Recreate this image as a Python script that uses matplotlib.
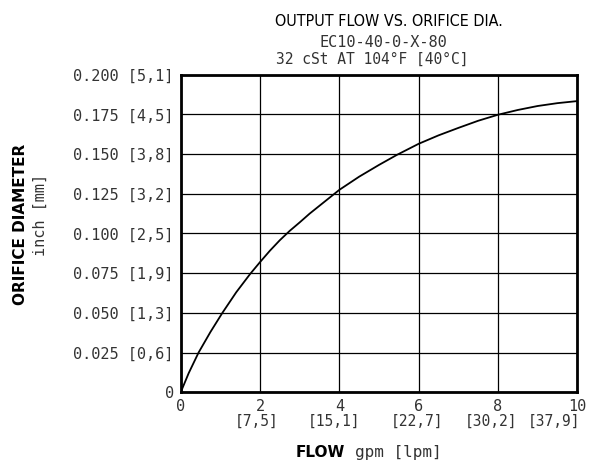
import matplotlib
matplotlib.use("Agg")
import matplotlib.pyplot as plt

# flow (gpm) vs orifice diameter (inch)
flow = [0, 0.2, 0.45, 0.75, 1.05, 1.4, 1.75, 2, 2.25, 2.5, 2.75, 3, 3.25,
        3.5, 3.85, 4, 4.5, 5, 5.45, 6, 6.5, 7, 7.5, 8, 8.5, 9, 9.5, 10]
dia = [0, 0.012, 0.025, 0.038, 0.050, 0.063, 0.0745, 0.082, 0.0892, 0.0958,
       0.1017, 0.107, 0.1125, 0.1175, 0.1245, 0.1275, 0.1358, 0.1432, 0.1495,
       0.1565, 0.1618, 0.1665, 0.1710, 0.1748, 0.1778, 0.1803, 0.1821, 0.1834]

x_ticks = [0, 2, 4, 6, 8, 10]
x_lpm = ["", "[7,5]", "[15,1]", "[22,7]", "[30,2]", "[37,9]"]
y_ticks = [0, 0.025, 0.050, 0.075, 0.100, 0.125, 0.150, 0.175, 0.200]
y_labels = ["0", "0.025 [0,6]", "0.050 [1,3]", "0.075 [1,9]", "0.100 [2,5]",
            "0.125 [3,2]", "0.150 [3,8]", "0.175 [4,5]", "0.200 [5,1]"]

txt = "#333333"
mono = "DejaVu Sans Mono"

fig = plt.figure(figsize=(6.03, 4.67), dpi=100)
ax = fig.add_axes([0.2997, 0.1600, 0.6577, 0.6800])

ax.plot(flow, dia, color="black", lw=1.3, zorder=3)

ax.set_xlim(0, 10)
ax.set_ylim(0, 0.2)
ax.set_xticks(x_ticks)
ax.set_xticklabels([str(t) for t in x_ticks], fontsize=11, color=txt, family=mono)
ax.set_yticks(y_ticks)
ax.set_yticklabels(y_labels, fontsize=11, color=txt, family=mono)
ax.tick_params(length=0, pad=5)
ax.grid(True, color="black", lw=0.9)
for s in ax.spines.values():
    s.set_linewidth(2)
    s.set_color("black")

# metric flow labels under the gpm ticks (nudged as in the original)
nudge = [0, -3, -5, -2, -7, -23]
for x, lab, dx in zip(x_ticks, x_lpm, nudge):
    ax.annotate(lab, (x, 0), xycoords="data", xytext=(dx, -22),
                textcoords="offset pixels", ha="center", va="top",
                fontsize=10.5, color=txt, family=mono)

fig.text(0.572, 0.030, "FLOW", fontsize=11, fontweight="bold", ha="right", va="center")
fig.text(0.588, 0.030, "gpm [lpm]", fontsize=11.5, color=txt, ha="left",
         va="center", family=mono)

fig.text(0.034, 0.52, "ORIFICE DIAMETER", fontsize=11, fontweight="bold",
         rotation=90, ha="center", va="center")
fig.text(0.066, 0.54, "inch [mm]", fontsize=11, color=txt, family=mono,
         rotation=90, ha="center", va="center")

fig.text(0.645, 0.955, "OUTPUT FLOW VS. ORIFICE DIA.", fontsize=11.5,
         ha="center", va="center", fontstretch="condensed")
fig.text(0.635, 0.908, "EC10-40-0-X-80", fontsize=11, color=txt, family=mono,
         ha="center", va="center")
fig.text(0.618, 0.872, "32 cSt AT 104°F [40°C]", fontsize=10.5, color=txt,
         family=mono, ha="center", va="center")

fig.savefig("out.png", dpi=100)
